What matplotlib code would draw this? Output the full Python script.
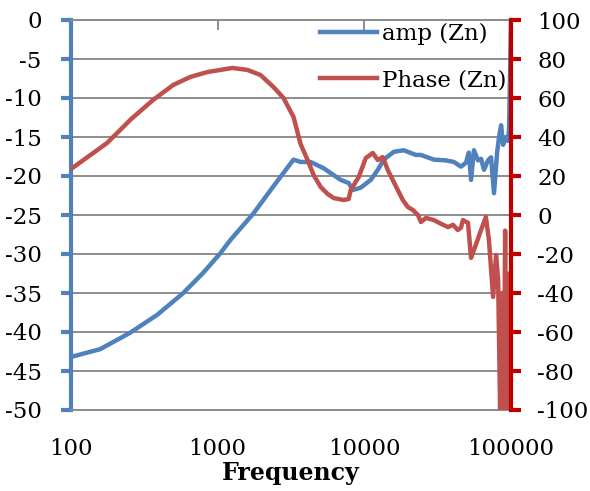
import matplotlib
matplotlib.use("Agg")
import matplotlib.pyplot as plt
from matplotlib.ticker import FixedLocator, NullLocator

# ---- data ----
amp_freq = [100, 158, 253, 387, 583, 798, 1043, 1222, 1754, 2404, 3290, 3675, 4300,
            5275, 6900, 7820, 8340, 9440, 11060, 12360, 13570, 15880, 18580, 22440,
            24300, 29800, 36000, 40800, 45600, 49300, 51600, 53400, 55900, 59600,
            62500, 65500, 69700, 73100, 76600, 80400, 82900, 85600, 88300, 92600,
            95500, 97000, 100000]
amp_db = [-43.2, -42.2, -40.1, -37.8, -35.0, -32.4, -29.9, -28.2, -24.8, -21.3, -17.9,
          -18.2, -18.2, -19.0, -20.5, -20.9, -21.8, -21.5, -20.5, -19.2, -17.9, -16.9,
          -16.7, -17.3, -17.3, -17.9, -18.0, -18.2, -18.8, -18.3, -17.0, -20.5, -16.7,
          -18.0, -17.8, -19.2, -18.0, -17.6, -22.2, -17.0, -15.0, -13.5, -16.0, -15.0,
          -15.5, -14.0, 0.0]

phase_freq = [100, 133, 176, 257, 363, 498, 651, 851, 1259, 1595, 1959, 2404, 2812,
              3290, 3675, 4104, 4510, 5035, 5620, 6180, 7230, 7820, 8070, 9160, 10230,
              11410, 12360, 13360, 14450, 15630, 16910, 18290, 19800, 21400, 23200,
              24300, 26300, 29800, 33300, 37200, 40200, 43400, 45600, 47000, 50900,
              53400, 55900, 62500, 67400, 70700, 75500, 79100, 81700, 84300, 85600,
              86900, 88300, 89500, 91200, 92600, 94000, 95500, 97000, 98600, 100000]
phase_deg = [23.6, 30.3, 36.9, 49.2, 59.0, 66.7, 70.8, 73.3, 75.4, 74.4, 71.8, 65.6, 60.0,
             50.3, 36.4, 28.2, 20.5, 14.4, 10.8, 8.7, 7.7, 8.2, 12.8, 19.5, 29.2, 31.8,
             28.2, 29.7, 23.1, 17.9, 12.8, 7.7, 4.1, 2.6, 0.0, -3.6, -1.5, -2.6, -4.5,
             -6.2, -5.0, -7.7, -6.5, -2.6, -4.0, -22.0, -18.0, -7.7, -1.0, -12.8, -42.0,
             -20.5, -33.0, -100.0, -40.0, -100.0, -50.0, -100.0, -8.0, -100.0, -60.0,
             -100.0, -30.0, -100.0, -100.0]

x_ticks = [100, 1000, 10000, 100000]
x_ticklabels = ["100", "1000", "10000", "100000"]
left_ticks = list(range(-50, 1, 5))
right_ticks = list(range(-100, 101, 20))

BLUE = "#4F81BD"
RED = "#C0504D"
DARKRED = "#C00000"
GRID = "#8C8C8C"
FONT = "DejaVu Serif"
FS = 16.5

fig = plt.figure(figsize=(5.9, 4.91), dpi=100)
ax = fig.add_axes([71/590, 1-410/491, (511-71)/590, 390/491])
ax2 = ax.twinx()

ax.set_xscale("log")
ax.set_xlim(100, 100000)
ax.set_ylim(-50, 0)
ax2.set_ylim(-100, 100)

l1, = ax.plot(amp_freq, amp_db, color=BLUE, lw=3.2, solid_joinstyle="round", label="amp (Zn)")
l2, = ax2.plot(phase_freq, phase_deg, color=RED, lw=3.2, solid_joinstyle="round", label="Phase (Zn)")

# grid
ax.yaxis.set_major_locator(FixedLocator(left_ticks))
ax.yaxis.grid(True, color=GRID, lw=1.4)
ax.set_axisbelow(True)

# x axis: line at top with inward ticks, labels at bottom
ax.xaxis.set_major_locator(FixedLocator(x_ticks))
ax.xaxis.set_minor_locator(NullLocator())
ax.set_xticklabels(x_ticklabels, fontfamily=FONT, fontsize=FS)
ax.tick_params(axis="x", which="major", top=True, bottom=False, labeltop=False,
               labelbottom=True, direction="in", length=7, width=1.4, color=GRID, pad=20)

ax.spines["top"].set_color(GRID)
ax.spines["top"].set_linewidth(1.4)
ax.spines["bottom"].set_color(GRID)
ax.spines["bottom"].set_linewidth(1.4)
ax.spines["right"].set_visible(False)
ax.spines["left"].set_color(BLUE)
ax.spines["left"].set_linewidth(3)

ax.set_yticklabels([str(v) for v in left_ticks], fontfamily=FONT, fontsize=FS)
ax.tick_params(axis="y", direction="out", length=7, width=3, color=BLUE, pad=14)

ax2.yaxis.set_major_locator(FixedLocator(right_ticks))
ax2.set_yticklabels([str(v) for v in right_ticks], fontfamily=FONT, fontsize=FS)
ax2.tick_params(axis="y", direction="out", length=7, width=3, color=DARKRED, pad=12)
for s in ["top", "bottom", "left"]:
    ax2.spines[s].set_visible(False)
ax2.spines["right"].set_color(DARKRED)
ax2.spines["right"].set_linewidth(3)

ax.set_xlabel("Frequency", fontfamily=FONT, fontsize=FS + 0.5, fontweight="bold", labelpad=1)

leg = ax2.legend(handles=[l1, l2], loc="upper left",
                 bbox_to_anchor=(320/590, 1-23/491), bbox_transform=fig.transFigure,
                 frameon=False, borderpad=0, borderaxespad=0, handlelength=2.5,
                 handletextpad=0.2, labelspacing=1.05,
                 prop={"family": FONT, "size": FS})

fig.savefig("out.png", dpi=100)
